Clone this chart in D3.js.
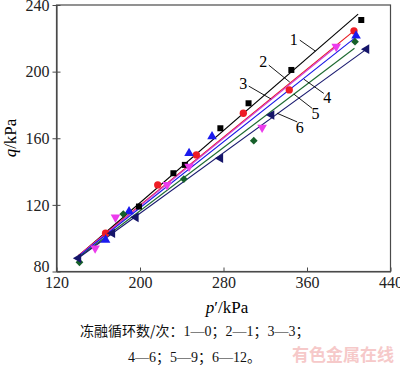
<!DOCTYPE html>
<html>
<head>
<meta charset="utf-8">
<script src="https://cdn.jsdelivr.net/npm/d3@7"></script>
<style>
  body { margin: 0; background: #fff; }
  svg { display: block; }
</style>
</head>
<body>
<svg id="chart" width="400" height="368"></svg>
<script>
// series values (p' in kPa, q in kPa)
var p1 = [199, 232, 243, 277, 304, 345, 412];
var q1 = [119, 139, 144, 166, 181, 201, 231];
var p2 = [167, 217, 254, 299, 343, 405];
var q2 = [103, 132, 150, 175, 189, 224.5];
var p3 = [157, 176.5, 226, 247, 317, 388];
var q3 = [94, 112.5, 132, 143, 166.5, 215];
var p4 = [167, 189.5, 247, 269, 407];
var q4 = [99, 116, 151, 161, 221.5];
var p5 = [142, 184, 242, 309, 406];
var q5 = [85.5, 114.5, 135.5, 158.5, 218];
var p6 = [141, 173.5, 196, 277, 326, 417];
var q6 = [88, 103, 112.5, 148, 174, 213.5];

// fitted lines: start and end points
var lineP0 = [141, 141, 141, 141, 141, 141];
var lineQ0 = [89.3, 89.6, 89.3, 89.0, 88.4, 88.1];
var lineP1 = [409, 405, 390, 407.5, 405.5, 417];
var lineQ1 = [234.5, 224.5, 216, 221, 214, 213.5];

var seriesNames = ['1', '2', '3', '4', '5', '6'];

// label positions and leader lines (data units)
var labelP = [347.4, 318, 298.9, 379.4, 368.1, 353.1];
var labelQ = [219.4, 206.3, 192.9, 184.5, 174.9, 166.8];
var leadP0 = [353.1, 323.4, 304.2, 376.1, 365.0, 350.6];
var leadQ0 = [218.9, 203.9, 191.3, 186.9, 177.9, 169.8];
var leadP1 = [368.1, 343.5, 325.7, 356.9, 347.4, 331.4];
var leadQ1 = [212.3, 193.7, 183.5, 195.5, 186.5, 175.0];

var xTicks = [120, 200, 280, 360, 440];
var yTicks = [80, 120, 160, 200, 240];

var captionLines = ['冻融循环数/次：1—0；2—1；3—3；', '4—6；5—9；6—12。'];

var lineColors = ['#000000', '#e8161c', '#d23fd6', '#1515e6', '#1d6a30', '#17176e'];
var markColors = ['#000000', '#ee1c24', '#ec3cec', '#1a1aee', '#16602a', '#15156a'];

var allP = [p1, p2, p3, p4, p5, p6];
var allQ = [q1, q2, q3, q4, q5, q6];

var svg = d3.select('#chart');
var serif = '"Liberation Serif", "Times New Roman", serif';
var cjk = '"Noto Sans CJK SC", sans-serif';

var x = d3.scaleLinear().domain([120, 440]).range([56.5, 390.5]);
var y = d3.scaleLinear().domain([80, 240]).range([271.5, 5]);

// frame
svg.append('rect')
  .attr('x', x(120)).attr('y', y(240))
  .attr('width', x(440) - x(120)).attr('height', y(80) - y(240))
  .attr('fill', 'none').attr('stroke', '#4a4a4a').attr('stroke-width', 1.2);

// axes
var xAxis = svg.append('g')
  .attr('transform', 'translate(0,' + y(80) + ')')
  .call(d3.axisBottom(x).tickValues(xTicks).tickSize(-4).tickSizeOuter(0).tickPadding(5));
var yAxis = svg.append('g')
  .attr('transform', 'translate(' + x(120) + ',0)')
  .call(d3.axisLeft(y).tickValues(yTicks).tickSize(4).tickSizeOuter(0).tickPadding(3));
yAxis.selectAll('.tick line').attr('x1', 4);
// lowest y label sits a bit higher, clear of the x labels
yAxis.selectAll('.tick text').filter(function(d){ return d === 80; }).attr('y', -5);

[xAxis, yAxis].forEach(function(g){
  g.select('.domain').attr('stroke', '#4a4a4a').attr('stroke-width', 1.2);
  g.selectAll('.tick line').attr('stroke', '#4a4a4a');
  g.selectAll('.tick text')
    .style('font-family', serif).style('font-size', '16px').attr('fill', '#222');
});

// fitted lines
for (var i = 0; i < 6; i++) {
  svg.append('line')
    .attr('x1', x(lineP0[i])).attr('y1', y(lineQ0[i]))
    .attr('x2', x(lineP1[i])).attr('y2', y(lineQ1[i]))
    .attr('stroke', lineColors[i]).attr('stroke-width', 1.1);
}

// markers
var symbols = [
  { type: d3.symbolSquare, size: 36, rot: 0 },
  { type: d3.symbolCircle, size: 42, rot: 0 },
  { type: d3.symbolTriangle, size: 40, rot: 180 },
  { type: d3.symbolTriangle, size: 40, rot: 0 },
  { type: d3.symbolSquare, size: 30, rot: 45 },
  { type: d3.symbolTriangle, size: 40, rot: -90 }
];
for (var s = 0; s < 6; s++) {
  var pts = allP[s].map(function(p, k){ return [p, allQ[s][k]]; });
  var sym = symbols[s];
  svg.append('g').selectAll('path')
    .data(pts)
    .enter()
    .append('path')
    .attr('d', d3.symbol().type(sym.type).size(sym.size))
    .attr('transform', function(d){
      return 'translate(' + x(d[0]) + ',' + y(d[1]) + ') rotate(' + sym.rot + ')';
    })
    .attr('fill', markColors[s]);
}

// leader lines and labels
for (var j = 0; j < 6; j++) {
  svg.append('line')
    .attr('x1', x(leadP0[j])).attr('y1', y(leadQ0[j]))
    .attr('x2', x(leadP1[j])).attr('y2', y(leadQ1[j]))
    .attr('stroke', '#000').attr('stroke-width', 0.9);
  svg.append('text')
    .attr('x', x(labelP[j])).attr('y', y(labelQ[j]))
    .attr('text-anchor', 'middle').attr('dy', '0.35em')
    .style('font-family', serif).style('font-size', '16px')
    .text(seriesNames[j]);
}

// axis titles
var xt = svg.append('text')
  .attr('x', 227).attr('y', 313)
  .attr('text-anchor', 'middle')
  .style('font-family', serif).style('font-size', '17px');
xt.append('tspan').style('font-style', 'italic').text('p');
xt.append('tspan').text('\u2032/kPa');

var yt = svg.append('text')
  .attr('transform', 'translate(16,138) rotate(-90)')
  .attr('text-anchor', 'middle')
  .style('font-family', serif).style('font-size', '17px');
yt.append('tspan').style('font-style', 'italic').text('q');
yt.append('tspan').text('/kPa');

// caption: digits and dashes in serif, the rest in the CJK face
var captionX = [80, 128];
var captionY = [336, 362];
captionLines.forEach(function(str, li){
  var t = svg.append('text')
    .attr('x', captionX[li]).attr('y', captionY[li])
    .style('font-size', '14px').attr('fill', '#111');
  var runs = str.match(/[0-9—]+|[^0-9—]+/g);
  runs.forEach(function(r){
    t.append('tspan')
      .style('font-family', /[0-9—]/.test(r) ? serif : cjk)
      .text(r);
  });
});

// watermark
svg.append('text')
  .attr('x', 292).attr('y', 361)
  .style('font-family', cjk).style('font-size', '17px')
  .style('font-weight', 'bold').attr('fill', '#f6c9c9')
  .text('有色金属在线');
</script>
</body>
</html>
